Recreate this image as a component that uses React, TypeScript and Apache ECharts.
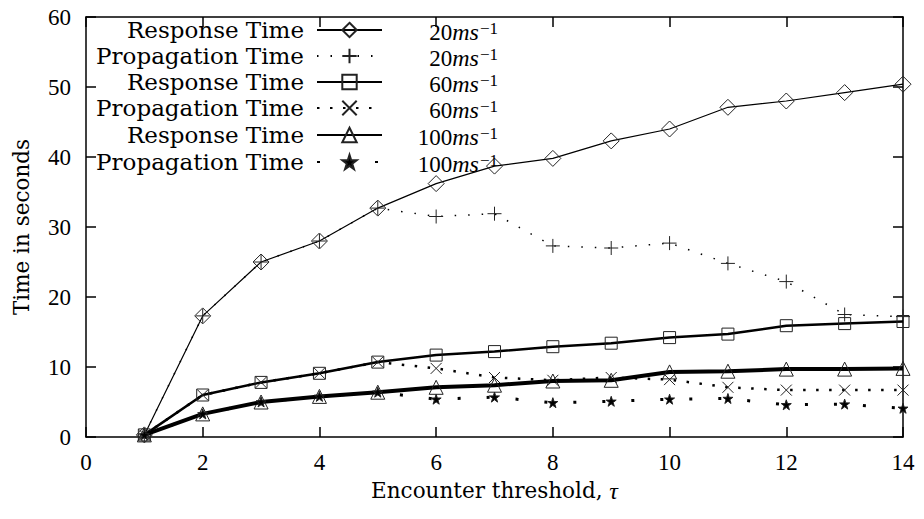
import React, { useEffect, useRef } from "react";
import * as echarts from "echarts";

const thresholds = [1, 2, 3, 4, 5, 6, 7, 8, 9, 10, 11, 12, 13, 14];
const resp20 = [0.3, 17.3, 25.0, 28.0, 32.7, 36.2, 38.7, 39.8, 42.3, 44.0, 47.1, 48.0, 49.2, 50.4];
const prop20 = [0.3, 17.3, 25.0, 28.0, 32.7, 31.5, 31.9, 27.3, 27.0, 27.7, 24.8, 22.2, 17.5, 17.2];
const resp60 = [0.3, 6.0, 7.8, 9.1, 10.7, 11.7, 12.2, 12.9, 13.4, 14.2, 14.7, 15.9, 16.2, 16.5];
const prop60 = [0.3, 6.0, 7.8, 9.1, 10.7, 9.8, 8.5, 8.1, 8.5, 8.2, 7.1, 6.7, 6.7, 6.7];
const resp100 = [0.3, 3.3, 5.0, 5.8, 6.4, 7.1, 7.4, 8.0, 8.1, 9.3, 9.4, 9.7, 9.7, 9.8];
const prop100 = [0.3, 3.3, 5.0, 5.8, 6.4, 5.4, 5.7, 4.9, 5.1, 5.4, 5.5, 4.6, 4.7, 4.1];

const legendLabels = [
  "Response Time",
  "Propagation Time",
  "Response Time",
  "Propagation Time",
  "Response Time",
  "Propagation Time",
];
const speedLabels = ["20", "20", "60", "60", "100", "100"];
const seriesNames = [
  "Response Time 20",
  "Propagation Time 20",
  "Response Time 60",
  "Propagation Time 60",
  "Response Time 100",
  "Propagation Time 100",
];

const xTicks = { min: 0, max: 14, interval: 2 };
const yTicks = { min: 0, max: 60, interval: 10 };

const NUM_FONT = "Liberation Serif";
const WORD_FONT = "DejaVu Serif";

const SYM = {
  diamond: "path://M5,0 L10,5 L5,10 L0,5 Z",
  plus: "path://M5,0 L5,10 M0,5 L10,5",
  square: "path://M0,0 L10,0 L10,10 L0,10 Z",
  cross: "path://M0,0 L10,10 M10,0 L0,10",
  triangle: "path://M5,0 L10,10 L0,10 Z",
  star: "path://M5,0 L6.2,3.6 L10,3.6 L6.9,5.9 L8.1,9.5 L5,7.3 L1.9,9.5 L3.1,5.9 L0,3.6 L3.8,3.6 Z",
};

export default function App() {
  const ref = useRef<HTMLDivElement>(null);

  useEffect(() => {
    if (!ref.current) return;
    const chart = echarts.init(ref.current, undefined, { renderer: "svg" });

    const allData = [resp20, prop20, resp60, prop60, resp100, prop100];
    const styles = [
      { sym: SYM.diamond, size: 16, width: 1.2, type: "solid" as any, fill: "rgba(0,0,0,0)" },
      { sym: SYM.plus, size: 14, width: 1.5, type: [1.5, 12] as any, fill: "rgba(0,0,0,0)" },
      { sym: SYM.square, size: 12, width: 2.5, type: "solid" as any, fill: "rgba(0,0,0,0)" },
      { sym: SYM.cross, size: 11, width: 2.5, type: [2.5, 10.5] as any, fill: "rgba(0,0,0,0)" },
      { sym: SYM.triangle, size: 14, width: 4, type: "solid" as any, fill: "rgba(0,0,0,0)" },
      { sym: SYM.star, size: 10, width: 3, type: [3, 26] as any, fill: "#000" },
    ];

    const series = allData.map((vals, i) => ({
      name: seriesNames[i],
      type: "line",
      xAxisIndex: 0,
      yAxisIndex: 0,
      data: thresholds.map((t, j) => [t, vals[j]]),
      symbol: styles[i].sym,
      symbolSize: styles[i].size,
      showAllSymbol: true,
      lineStyle: { color: "#000", width: styles[i].width, type: styles[i].type, cap: "butt" },
      itemStyle: { color: styles[i].fill, borderColor: "#222", borderWidth: 1 },
      emphasis: { disabled: true },
      z: 2 + i,
    }));

    const rowY = [30, 56, 82, 108, 135, 162];

    const legends = seriesNames.map((n, i) => ({
      data: [n],
      orient: "vertical",
      right: 924 - 383,
      top: rowY[i] - 12,
      align: "right",
      padding: 0,
      itemWidth: 65,
      itemHeight: 18,
      selectedMode: false,
      formatter: () => legendLabels[i],
      textStyle: {
        fontFamily: WORD_FONT,
        fontSize: 23,
        color: "#000",
        lineHeight: 24,
        padding: [0, 8, 0, 0],
      },
    }));

    const graphics = speedLabels.map((s, i) => ({
      type: "text",
      x: 498,
      y: rowY[i] + 2,
      z: 10,
      style: {
        text: `{n|${s}}{i|ms}{s|−1}`,
        align: "right",
        verticalAlign: "middle",
        rich: {
          n: { fontFamily: NUM_FONT, fontSize: 23, fill: "#000", lineHeight: 24 },
          i: { fontFamily: NUM_FONT, fontSize: 24, fontStyle: "italic", fill: "#000", lineHeight: 24 },
          s: { fontFamily: NUM_FONT, fontSize: 17, fill: "#000", verticalAlign: "top", lineHeight: 24, padding: [0, 0, 8, 1] },
        },
      },
    }));

    const axisLine = { show: true, onZero: false, lineStyle: { color: "#000", width: 1.5 } };
    const axisTick = { show: true, inside: true, length: 10, lineStyle: { color: "#000", width: 1.5 } };

    chart.setOption({
      animation: false,
      backgroundColor: "#fff",
      grid: { left: 86, right: 21, top: 17, bottom: 82, containLabel: false },
      xAxis: [
        {
          type: "value",
          position: "bottom",
          ...xTicks,
          axisLine,
          axisTick,
          splitLine: { show: false },
          axisLabel: { fontFamily: NUM_FONT, fontSize: 23, color: "#000", margin: 14 },
          name: "{a|Encounter threshold, }{b|τ}",
          nameLocation: "middle",
          nameGap: 40,
          nameTextStyle: {
            rich: {
              a: { fontFamily: WORD_FONT, fontSize: 21.5, color: "#000" },
              b: { fontFamily: NUM_FONT, fontSize: 24, color: "#000", fontStyle: "italic" },
            },
          },
        },
        {
          type: "value",
          position: "top",
          ...xTicks,
          axisLine,
          axisTick,
          splitLine: { show: false },
          axisLabel: { show: false },
        },
      ],
      yAxis: [
        {
          type: "value",
          position: "left",
          ...yTicks,
          axisLine,
          axisTick,
          splitLine: { show: false },
          axisLabel: { fontFamily: NUM_FONT, fontSize: 23, color: "#000", margin: 15 },
          name: "Time in seconds",
          nameLocation: "middle",
          nameGap: 54,
          nameTextStyle: { fontFamily: WORD_FONT, fontSize: 21.5, color: "#000" },
        },
        {
          type: "value",
          position: "right",
          ...yTicks,
          axisLine,
          axisTick,
          splitLine: { show: false },
          axisLabel: { show: false },
        },
      ],
      legend: legends,
      graphic: graphics,
      series,
    });

    return () => chart.dispose();
  }, []);

  return (
    <div
      ref={ref}
      style={{ position: "absolute", left: 0, top: 0, width: 924, height: 519 }}
    />
  );
}
